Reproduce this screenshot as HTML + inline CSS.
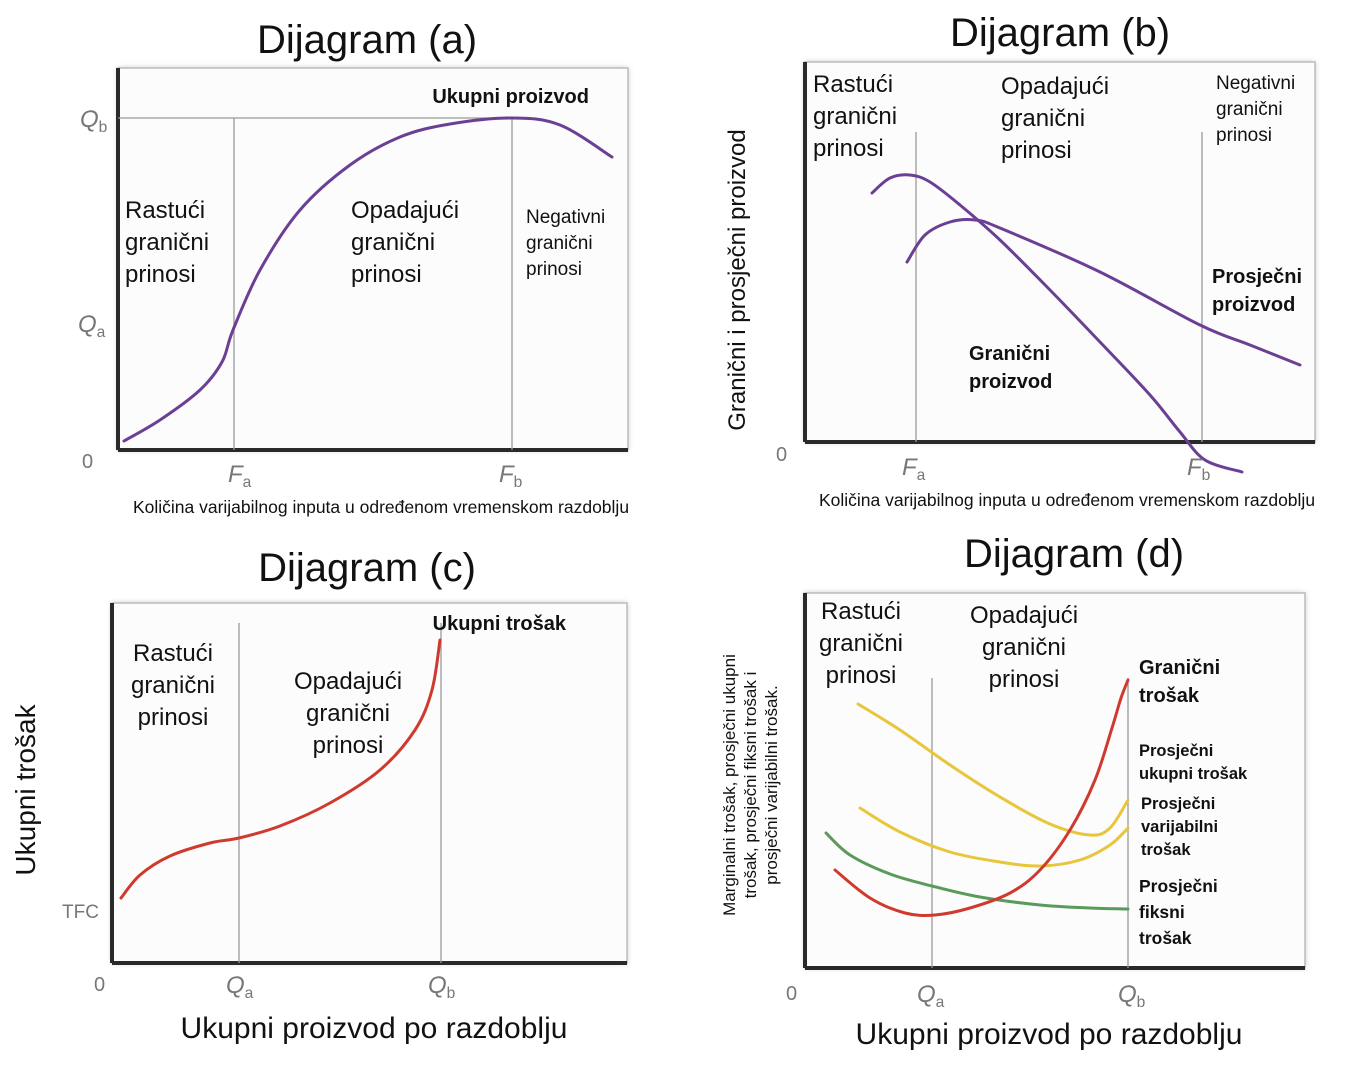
<!DOCTYPE html>
<html><head><meta charset="utf-8"><style>
html,body{margin:0;padding:0;background:#fff;}
svg{display:block;font-family:"Liberation Sans",sans-serif;}
</style></head><body>
<svg id="chart" width="1372" height="1080" viewBox="0 0 1372 1080" xmlns="http://www.w3.org/2000/svg">
<defs><filter id="sh" x="-5%" y="-5%" width="110%" height="110%"><feGaussianBlur stdDeviation="3"/></filter></defs>
<g id="root"></g>
</svg>
<script>
// ---- Data (units: offset from plot origin) ----
const aTotalProduct=[[6,9],[42,30],[82,60],[104,88],[115,120],[142,180],[182,240],[232,285],[282,313],[332,326],[394,332],[442,325],[494,293]];
const aGuides=[116,394];
const bMarginal=[[67,249],[85,264],[105,267],[125,260],[155,237],[195,202],[245,152],[295,100],[345,47],[375,10],[400,-18],[437,-30]];
const bAverage=[[102,180],[120,207],[145,220],[170,222],[195,214],[295,170],[395,117],[445,97],[495,77]];
const bGuides=[111,397];
const cTotalCost=[[9,65],[28,88],[58,107],[98,120],[127,125],[168,137],[218,160],[268,193],[303,233],[320,273],[328,323]];
const cGuides=[127,329];
const dATC=[[53,264],[95,238],[145,203],[195,171],[245,144],[285,133],[305,140],[323,168]];
const dAVC=[[55,160],[95,136],[145,116],[195,106],[235,102],[275,108],[305,123],[323,140]];
const dAFC=[[21,135],[45,113],[85,94],[127,82],[175,71],[235,63],[285,60],[323,59]];
const dMC=[[30,98],[65,70],[100,55],[130,53],[165,60],[205,75],[235,98],[265,138],[290,188],[307,240],[316,270],[323,288]];
const dGuides=[127,323];

const NS="http://www.w3.org/2000/svg";
const root=document.getElementById('root');
function el(tag,attrs,parent){const e=document.createElementNS(NS,tag);for(const k in attrs)e.setAttribute(k,attrs[k]);(parent||root).appendChild(e);return e;}
function txt(x,y,s,size,opts){const t=el('text',Object.assign({x:x,y:y,'font-size':size,fill:'#111'},opts||{}));t.textContent=s;return t;}
function panel(x0,y0,w,h){
  const sx=v=>x0+v, sy=v=>y0-v;
  const g=el('g',{});
  
  
  el('rect',{x:x0,y:y0-h,width:w,height:h,fill:'#999',filter:'url(#sh)',opacity:0.6},g);
  el('rect',{x:x0,y:y0-h,width:w,height:h,fill:'#fcfcfc',stroke:'#bbb','stroke-width':1.5},g);
  el('line',{x1:x0,y1:y0-h,x2:x0,y2:y0,stroke:'#2a2a2a','stroke-width':4},g);
  el('line',{x1:x0,y1:y0,x2:x0+w,y2:y0,stroke:'#2a2a2a','stroke-width':4},g);
  return {sx,sy,x0,y0,w,h};
}
function guide(p,v,top){const l=el('line',{x1:p.sx(v),y1:top,x2:p.sx(v),y2:p.y0,stroke:'#999','stroke-width':1.3});
  
  }
function curve(p,data,color,name,w){
  const pts=data.map(d=>[p.sx(d[0]),p.sy(d[1])]);
  let d='M'+pts[0][0]+','+pts[0][1];
  for(let i=0;i<pts.length-1;i++){
    const p0=pts[Math.max(0,i-1)],p1=pts[i],p2=pts[i+1],p3=pts[Math.min(pts.length-1,i+2)];
    const c1=[p1[0]+(p2[0]-p0[0])/6,p1[1]+(p2[1]-p0[1])/6],c2=[p2[0]-(p3[0]-p1[0])/6,p2[1]-(p3[1]-p1[1])/6];
    d+=' C'+c1[0]+','+c1[1]+' '+c2[0]+','+c2[1]+' '+p2[0]+','+p2[1];
  }
  const path=el('path',{d:d,fill:'none',stroke:color,'stroke-width':w||3,'stroke-linecap':'round'});
  
  
}
function label(lines,x,y,size,lh,opts){lines.forEach((s,i)=>{const t=txt(x,y+i*lh,s,size,opts);
  
  });}
function tick(x,y,main,sub,size){const t=txt(x,y,'',size,{fill:'#777','font-style':'italic'});
  const a=el('tspan',{},t);a.textContent=main;const b=el('tspan',{'font-size':size*0.65,dy:5,'font-style':'normal'},t);b.textContent=sub;
  
  }
function title(x,y,s){const t=txt(x,y,s,40,{'text-anchor':'middle'});
  
  }

// ---- Panel A ----
title(367,53,'Dijagram (a)');
const A=panel(118,450,510,382);
el('line',{x1:118,y1:A.sy(332),x2:512,y2:A.sy(332),stroke:'#999','stroke-width':1.3});
aGuides.forEach(v=>guide(A,v,A.sy(332)));
curve(A,aTotalProduct,'#6b3f94','total-product-curve',3);
txt(589,103,'Ukupni proizvod',20,{'font-weight':'bold','text-anchor':'end'});
label(['Rastući','granični','prinosi'],125,218,24,32);
label(['Opadajući','granični','prinosi'],351,218,24,32);
label(['Negativni','granični','prinosi'],526,223,19,26);
tick(80,127,'Q','b',24);tick(78,332,'Q','a',24);
txt(82,468,'0',20,{fill:'#777'});
tick(228,482,'F','a',24);tick(499,482,'F','b',24);
txt(381,513,'Količina varijabilnog inputa u određenom vremenskom razdoblju',17.5,{'text-anchor':'middle'});

// ---- Panel B ----
title(1060,46,'Dijagram (b)');
const B=panel(805,442,510,380);
bGuides.forEach(v=>guide(B,v,B.sy(310)));
curve(B,bMarginal,'#6b3f94','marginal-product-curve',3);
curve(B,bAverage,'#6b3f94','average-product-curve',3);
label(['Rastući','granični','prinosi'],813,92,24,32);
label(['Opadajući','granični','prinosi'],1001,94,24,32);
label(['Negativni','granični','prinosi'],1216,89,19,26);
label(['Prosječni','proizvod'],1212,283,20,28,{'font-weight':'bold'});
label(['Granični','proizvod'],969,360,20,28,{'font-weight':'bold'});
txt(776,461,'0',20,{fill:'#777'});
tick(902,475,'F','a',24);tick(1187,475,'F','b',24);
txt(1067,506,'Količina varijabilnog inputa u određenom vremenskom razdoblju',17.5,{'text-anchor':'middle'});
txt(0,0,'Granični i prosječni proizvod',24,{'text-anchor':'middle',transform:'translate(745,280) rotate(-90)'});

// ---- Panel C ----
title(367,581,'Dijagram (c)');
const C=panel(112,963,515,360);
cGuides.forEach(v=>guide(C,v,C.sy(340)));
curve(C,cTotalCost,'#d03a2e','total-cost-curve',3);
txt(566,630,'Ukupni trošak',20,{'font-weight':'bold','text-anchor':'end'});
label(['Rastući','granični','prinosi'],173,661,24,32,{'text-anchor':'middle'});
label(['Opadajući','granični','prinosi'],348,689,24,32,{'text-anchor':'middle'});
txt(62,918,'TFC',19,{fill:'#777'});
txt(94,991,'0',20,{fill:'#777'});
tick(226,993,'Q','a',24);tick(428,993,'Q','b',24);
txt(374,1038,'Ukupni proizvod po razdoblju',30,{'text-anchor':'middle'});
txt(0,0,'Ukupni trošak',28,{'text-anchor':'middle',transform:'translate(35,790) rotate(-90)'});

// ---- Panel D ----
title(1074,567,'Dijagram (d)');
const D=panel(805,968,500,375);
dGuides.forEach(v=>guide(D,v,D.sy(290)));
curve(D,dATC,'#e8c53a','average-total-cost-curve',3);
curve(D,dAVC,'#e8c53a','average-variable-cost-curve',3);
curve(D,dAFC,'#5a9a5a','average-fixed-cost-curve',3);
curve(D,dMC,'#d03a2e','marginal-cost-curve',3);
label(['Rastući','granični','prinosi'],861,619,24,32,{'text-anchor':'middle'});
label(['Opadajući','granični','prinosi'],1024,623,24,32,{'text-anchor':'middle'});
label(['Granični','trošak'],1139,674,20,28,{'font-weight':'bold'});
label(['Prosječni','ukupni trošak'],1139,756,16.5,23,{'font-weight':'bold'});
label(['Prosječni','varijabilni','trošak'],1141,809,16.5,23,{'font-weight':'bold'});
label(['Prosječni','fiksni','trošak'],1139,892,17.5,26,{'font-weight':'bold'});
txt(786,1000,'0',20,{fill:'#777'});
tick(917,1002,'Q','a',24);tick(1118,1002,'Q','b',24);
txt(1049,1044,'Ukupni proizvod po razdoblju',30,{'text-anchor':'middle'});
['Marginalni trošak, prosječni ukupni','trošak, prosječni fiksni trošak i','prosječni varijabilni trošak.'].forEach((s,i)=>{
  const t=txt(0,0,s,17,{'text-anchor':'middle',transform:'translate('+(735+i*21)+',785) rotate(-90)'});
  
  
});
</script>
</body></html>
